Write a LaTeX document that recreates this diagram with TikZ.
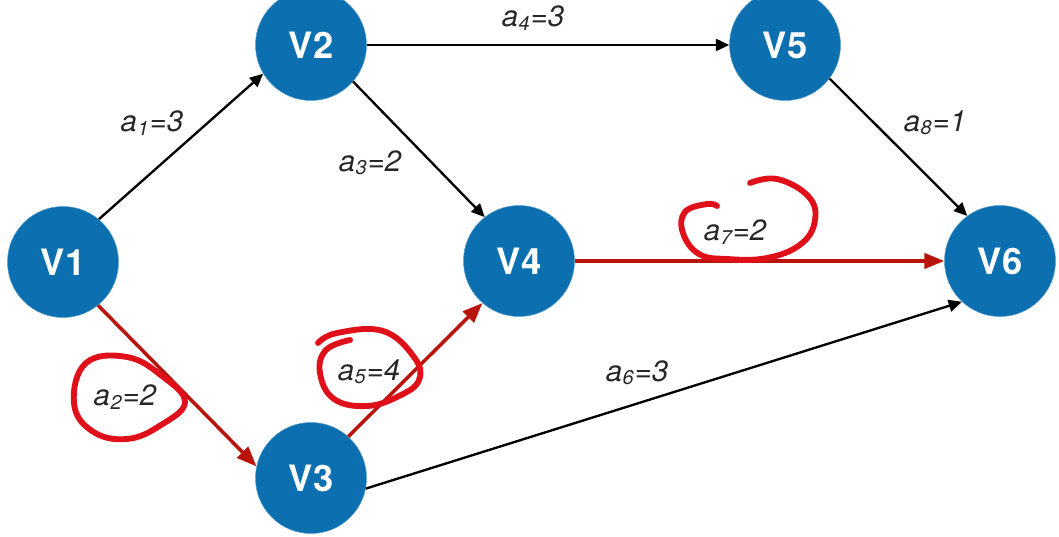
\documentclass[tikz,border=0pt]{standalone}
\usepackage{fontspec}
\setmainfont{TeX Gyre Heros}
\usetikzlibrary{arrows.meta}
\definecolor{GraphBlue}{HTML}{0B6FB0}
\definecolor{PathRed}{HTML}{B8140C}
\definecolor{InkRed}{HTML}{E0101A}
\newcommand{\wlabel}[2]{a\kern0.02em\raisebox{-0.12em}{\fontsize{17}{17}\selectfont #1}\kern0.04em=#2}

\begin{document}
\begin{tikzpicture}[
  x=0.03cm,
  y=-0.03cm,
  vertex/.style={
    circle,
    fill=GraphBlue,
    draw=GraphBlue!70!white,
    line width=0.4pt,
    minimum size=3.33cm,
    inner sep=0pt,
    text=white,
    font=\fontsize{31}{31}\selectfont\bfseries
  },
  weight/.style={font=\fontsize{25}{25}\selectfont\itshape, text=black!85, inner sep=0pt},
  arc/.style={-{Triangle[length=0.4cm,width=0.36cm]}, line width=2pt, draw=black},
  critarc/.style={-{Triangle[length=0.6cm,width=0.46cm]}, line width=3pt, draw=PathRed, color=PathRed},
  circled/.style={line width=5pt, draw=InkRed, line cap=round, line join=round}
]
\clip (0,0) rectangle (1059,537);
\fill[white] (0,0) rectangle (1059,537);

\node[vertex] (V1) at (63,262) {V1};
\node[vertex] (V2) at (311,45) {V2};
\node[vertex] (V3) at (311,478) {V3};
\node[vertex] (V4) at (519,261) {V4};
\node[vertex] (V5) at (785,45) {V5};
\node[vertex] (V6) at (1000,261) {V6};

\draw[arc] (V1.50) -- (V2.211);
\draw[arc] (V2.east) -- (V5.west);
\draw[arc] (V2.-41) -- (V4.128);
\draw[arc] (V5.-37) -- (V6.126);
\draw[arc] (V3.-11) -- (V6.227);
\draw[critarc] (V1.-51) -- (V3.168);
\draw[critarc] (V3.48) -- (V4.229);
\draw[critarc] (V4.east) -- (V6.west);

\node[weight] (w1) at (152,123) {\wlabel{1}{3}};
\node[weight] (w2) at (125,397) {\wlabel{2}{2}};
\node[weight] (w3) at (370,163) {\wlabel{3}{2}};
\node[weight] (w4) at (533,18) {\wlabel{4}{3}};
\node[weight] (w5) at (369,372) {\wlabel{5}{4}};
\node[weight] (w6) at (637,373) {\wlabel{6}{3}};
\node[weight] (w7) at (735,232) {\wlabel{7}{2}};
\node[weight] (w8) at (935,123) {\wlabel{8}{1}};

% hand-drawn rings round the critical weights
\draw[circled] plot[smooth cycle, tension=0.7] coordinates {(86,363) (127,357) (162,376) (185,402) (161,425) (127,439) (92,431) (74,403)};
\draw[circled] plot[smooth, tension=0.7] coordinates {(318,343) (337,333) (383,331) (414,357) (419,380) (399,396) (367,406) (334,399) (320,373) (326,350) (350,340)};
\draw[circled] plot[smooth, tension=0.7] coordinates {(750,183) (777,179) (808,196) (815,220) (801,244) (767,258) (727,259) (699,254) (683,233) (685,212) (707,204) (717,206)};
\end{tikzpicture}
\end{document}
